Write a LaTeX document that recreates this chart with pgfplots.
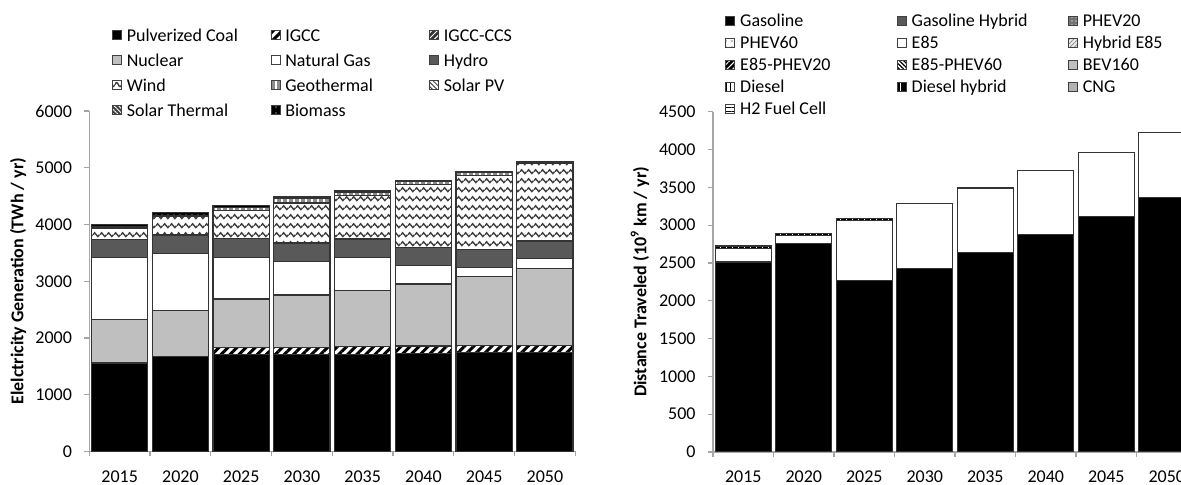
\documentclass[border=0pt]{standalone}
\usepackage{fontspec}
\setmainfont{Carlito}
\usepackage{pgfplots}
\pgfplotsset{compat=1.18}
\usetikzlibrary{patterns,patterns.meta}

% wavy pattern for wind
\pgfdeclarepatternformonly{wave}{\pgfqpoint{0pt}{0pt}}{\pgfqpoint{3.6pt}{4.4pt}}{\pgfqpoint{3.6pt}{4.4pt}}{%
  \pgfsetlinewidth{0.75pt}%
  \pgfpathmoveto{\pgfqpoint{0pt}{2.2pt}}%
  \pgfpathcurveto{\pgfqpoint{0.6pt}{3.5pt}}{\pgfqpoint{1.2pt}{3.5pt}}{\pgfqpoint{1.8pt}{2.2pt}}%
  \pgfpathcurveto{\pgfqpoint{2.4pt}{0.9pt}}{\pgfqpoint{3.0pt}{0.9pt}}{\pgfqpoint{3.6pt}{2.2pt}}%
  \pgfusepath{stroke}}

\tikzset{
  coal/.style={fill=black},
  igcc/.style={fill=white, postaction={pattern={Lines[angle=45,distance=3.2pt,line width=1.5pt]}, pattern color=black}},
  igccccs/.style={fill=black!80, postaction={pattern={Lines[angle=45,distance=2pt,line width=0.5pt]}, pattern color=white}},
  nuclear/.style={fill=black!25},
  ngas/.style={fill=white},
  hydro/.style={fill=black!65},
  wind/.style={fill=white, postaction={pattern=wave, pattern color=black!75}},
  geo/.style={fill=black!45, postaction={pattern={Lines[angle=90,distance=3pt,line width=1.3pt]}, pattern color=white}},
  solarpv/.style={fill=white, postaction={pattern={Lines[angle=-45,distance=1.6pt,line width=0.5pt]}, pattern color=black!70}},
  solarth/.style={fill=black!75, postaction={pattern={Lines[angle=-45,distance=1.6pt,line width=0.4pt]}, pattern color=white}},
  biomass/.style={fill=black, postaction={pattern={Dots[distance=3pt,radius=0.3pt]}, pattern color=white}},
  gasoline/.style={fill=black},
  gashyb/.style={fill=black!65},
  phevtwenty/.style={fill=black!55, postaction={pattern={Dots[distance=2pt,radius=0.4pt]}, pattern color=black!20}},
  phevsixty/.style={fill=white, postaction={pattern={Dots[distance=3pt,radius=0.35pt]}, pattern color=black}},
  efive/.style={fill=white},
  hybefive/.style={fill=black!8, postaction={pattern={Lines[angle=45,distance=1.5pt,line width=0.3pt]}, pattern color=black!50}},
  efivetwenty/.style={fill=black, postaction={pattern={Lines[angle=45,distance=2pt,line width=0.5pt]}, pattern color=white}},
  efivesixty/.style={fill=white, postaction={pattern={Lines[angle=-45,distance=1.5pt,line width=0.6pt]}, pattern color=black}},
  bev/.style={fill=black!25},
  diesel/.style={fill=white, postaction={pattern={Lines[angle=90,distance=2.2pt,line width=0.5pt]}, pattern color=black}},
  dieselhyb/.style={fill=black, postaction={pattern={Lines[angle=90,distance=3pt,line width=0.3pt]}, pattern color=white}},
  cng/.style={fill=black!30},
  hfc/.style={fill=white, postaction={pattern={Lines[angle=0,distance=2.25pt,line width=0.4pt]}, pattern color=black}},
}

\pgfplotsset{
  sqleg/.style={legend image code/.code={\draw[##1,line width=0.4pt,draw=black!75] (0pt,-2.25pt) rectangle (4.5pt,2.25pt);}},
  chart/.style={
    scale only axis, ybar stacked, enlargelimits=false,
    xmin=-0.5, xmax=7.5, ymin=0,
    xtick={-0.5,0.5,...,7.5},
    xticklabels={2015,2020,2025,2030,2035,2040,2045,2050,{}},
    y tick label style={xshift=-3pt},
    axis lines=left, axis line style={-, draw=black!35, line width=0.6pt},
    tick align=outside, major tick length=2.5pt,
    tick style={draw=black!35, line width=0.6pt},
    /pgf/number format/assume math mode=true,
    /pgf/number format/1000 sep={},
    every axis plot/.append style={draw=black!80, line width=0.6pt, sqleg},
    legend columns=3, legend cell align=left,
    /tikz/every odd column/.append style={column sep=1.65pt},
  },
}
% legend text cells with fixed width and fixed height
\newcommand\lb[1]{\makebox[71.1pt][l]{\rule[-2.9pt]{0pt}{10.9pt}#1}}
\newcommand\rb[1]{\makebox[77.4pt][l]{\rule[-2.3pt]{0pt}{9.4pt}#1}}

\begin{document}
\fontsize{9}{10.8}\selectfont
\begin{tikzpicture}
\begin{axis}[chart,
  at={(44.65pt,16.75pt)}, anchor=south west,
  width=243pt, height=170.25pt, bar width=28.1pt,
  ymax=6000, ytick={0,1000,...,6000},
  x tick label style={xshift=15.19pt, yshift=-3.8pt},
  ylabel={\bfseries Elelctricity Generation (TWh / yr)},
  every axis y label/.style={at={(axis description cs:-0.1467,0.5)}, rotate=90, anchor=center},
  legend style={at={(axis description cs:0.046,1.2579)}, anchor=north west,
    draw=none, fill=none, inner sep=0pt, row sep=1.65pt, nodes={inner sep=0.8pt}},
]
\addplot[coal] coordinates {(0,1558) (1,1674) (2,1703) (3,1703) (4,1715) (5,1733) (6,1750) (7,1750)};
\addlegendentry{\lb{Pulverized Coal}}
\addplot[igcc] coordinates {(0,0) (1,0) (2,128) (3,128) (4,134) (5,127) (6,122) (7,122)};
\addlegendentry{\lb{IGCC}}
\addlegendimage{sqleg,igccccs}
\addlegendentry{\lb{IGCC-CCS}}
\addplot[nuclear] coordinates {(0,763) (1,807) (2,856) (3,927) (4,986) (5,1093) (6,1205) (7,1346)};
\addlegendentry{\lb{Nuclear}}
\addplot[ngas] coordinates {(0,1104) (1,1015) (2,738) (3,590) (4,590) (5,318) (6,159) (7,177)};
\addlegendentry{\lb{Natural Gas}}
\addplot[hydro] coordinates {(0,312) (1,318) (2,324) (3,325) (4,318) (5,319) (6,319) (7,313)};
\addlegendentry{\lb{Hydro}}
\addplot[wind] coordinates {(0,203) (1,331) (2,501) (3,707) (4,773) (5,1115) (6,1315) (7,1369)};
\addlegendentry{\lb{Wind}}
\addplot[geo] coordinates {(0,15) (1,10) (2,50) (3,75) (4,41) (5,50) (6,50) (7,5)};
\addlegendentry{\lb{Geothermal}}
\addlegendimage{sqleg,solarpv}
\addlegendentry{\lb{Solar PV}}
\addlegendimage{sqleg,solarth}
\addlegendentry{\lb{Solar Thermal}}
\addplot[biomass] coordinates {(0,45) (1,50) (2,40) (3,30) (4,35) (5,12) (6,15) (7,20)};
\addlegendentry{\lb{Biomass}}
\end{axis}

\begin{axis}[chart,
  at={(356.5pt,16.5pt)}, anchor=south west,
  width=242pt, height=170.15pt, bar width=28pt,
  ymax=4500, ytick={0,500,...,4500},
  x tick label style={xshift=15.125pt, yshift=-3.8pt},
  ylabel={\bfseries Distance Traveled (10\textsuperscript{9} km / yr)},
  every axis y label/.style={at={(axis description cs:-0.1508,0.5)}, rotate=90, anchor=center},
  legend style={at={(axis description cs:0.0246,1.2989)}, anchor=north west,
    draw=none, fill=none, inner sep=0pt, row sep=1pt, nodes={inner sep=0.8pt}},
]
\addplot[gasoline] coordinates {(0,2513) (1,2759) (2,2267) (3,2425) (4,2640) (5,2873) (6,3110) (7,3364)};
\addlegendentry{\rb{Gasoline}}
\addlegendimage{sqleg,gashyb}
\addlegendentry{\rb{Gasoline Hybrid}}
\addlegendimage{sqleg,phevtwenty}
\addlegendentry{\rb{PHEV20}}
\addlegendimage{sqleg,phevsixty}
\addlegendentry{\rb{PHEV60}}
\addplot[efive] coordinates {(0,180) (1,109) (2,799) (3,860) (4,851) (5,846) (6,855) (7,863)};
\addlegendentry{\rb{E85}}
\addlegendimage{sqleg,hybefive}
\addlegendentry{\rb{Hybrid E85}}
\addlegendimage{sqleg,efivetwenty}
\addlegendentry{\rb{E85-PHEV20}}
\addlegendimage{sqleg,efivesixty}
\addlegendentry{\rb{E85-PHEV60}}
\addlegendimage{sqleg,bev}
\addlegendentry{\rb{BEV160}}
\addlegendimage{sqleg,diesel}
\addlegendentry{\rb{Diesel}}
\addplot[dieselhyb] coordinates {(0,30) (1,22) (2,22) (3,0) (4,0) (5,0) (6,0) (7,0)};
\addlegendentry{\rb{Diesel hybrid}}
\addlegendimage{sqleg,cng}
\addlegendentry{\rb{CNG}}
\addlegendimage{sqleg,hfc}
\addlegendentry{\rb{H2 Fuel Cell}}
\end{axis}
\pgfresetboundingbox
\useasboundingbox (0,0) rectangle (590.5pt,242.5pt);
\end{tikzpicture}
\end{document}
